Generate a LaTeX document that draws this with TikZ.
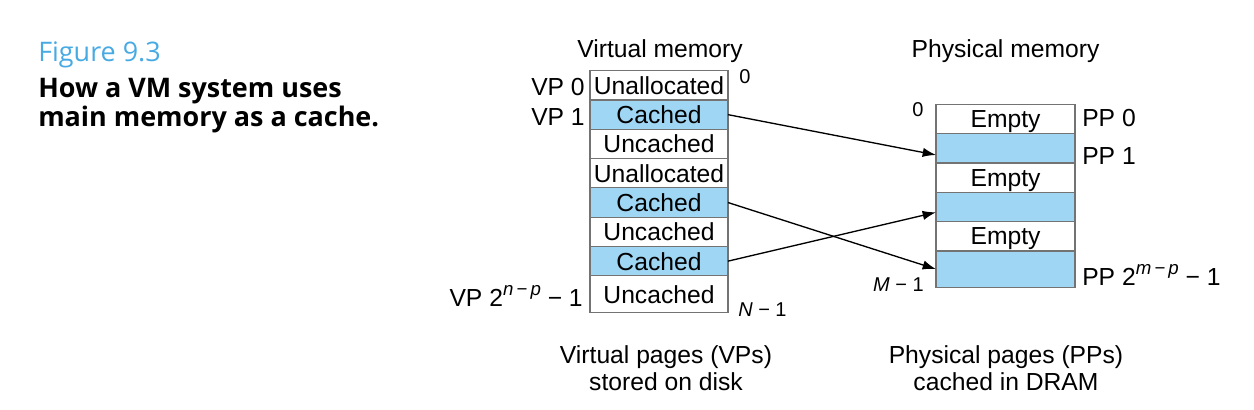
\documentclass[tikz,border=0pt]{standalone}
\usepackage{fontspec}
\setmainfont{Liberation Sans}
\newfontfamily\capfont{Open Sans}
\usetikzlibrary{arrows.meta, positioning}

\definecolor{cachedblue}{RGB}{158,214,243}
\definecolor{figblue}{RGB}{72,170,226}
\definecolor{cellline}{RGB}{115,115,115}

\newcommand{\pagesup}[1]{\raisebox{0.42em}{\fontsize{14}{16}\selectfont\itshape #1}}

\begin{document}
\begin{tikzpicture}[
    x=0.75pt, y=-0.75pt,
    cell/.style = {
        rectangle,
        draw=cellline,
        line width=0.8pt,
        inner sep=0pt,
        outer sep=0pt,
        text depth=0pt,
        font=\fontsize{18.5}{22}\selectfont
    },
    vcell/.style = {cell, minimum width=103.5pt, minimum height=22pt},
    pcell/.style = {cell, minimum width=104.25pt, minimum height=22pt},
    cached/.style = {fill=cachedblue},
    lbl/.style = {font=\fontsize{18.5}{22}\selectfont, inner sep=0pt},
    small/.style = {font=\fontsize{15}{17}\selectfont, inner sep=0pt},
    capline/.style = {font=\capfont\fontsize{20.2}{24}\selectfont, inner sep=0pt, anchor=base west},
    capbold/.style = {capline, font=\capfont\bfseries\fontsize{20.2}{24}\selectfont},
    arrow/.style = {line width=1pt, -{Latex[length=10pt, width=7pt]}}
]
    \useasboundingbox (0,0) rectangle (1254,410);

    % === CAPTION ===
    \node[capline, text=figblue] (fignum) at (38,61.7) {Figure 9.3};
    \node[capbold] (capa) at (38,98) {How a VM system uses};
    \node[capbold] (capb) at (38,127) {main memory as a cache.};

    % === VIRTUAL MEMORY ===
    \node[lbl, anchor=base] (vmtitle) at (660,58) {Virtual memory};
    \node[vcell] (vp0) at (659,85.35) {Unallocated};
    \node[vcell, cached] (vp1) at (659,114.65) {Cached};
    \node[vcell] (vp2) at (659,143.95) {Uncached};
    \node[vcell] (vp3) at (659,173.25) {Unallocated};
    \node[vcell, cached] (vp4) at (659,202.55) {Cached};
    \node[vcell] (vp5) at (659,231.85) {Uncached};
    \node[vcell, cached] (vp6) at (659,261.15) {Cached};
    \node[vcell, minimum height=27.75pt] (vp7) at (659,294.2) {Uncached};

    \node[lbl, anchor=base east] (vp0lbl) at (585,96) {VP 0};
    \node[lbl, anchor=base east] (vp1lbl) at (585,126) {VP 1};
    \node[lbl, anchor=base east] (vplastlbl) at (583,306) {VP 2\pagesup{n\,−\,p} − 1};
    \node[small] (vtop) at (745,77) {0};
    \node[small, anchor=base west] (vbot) at (738,316) {{\itshape N} − 1};

    % === PHYSICAL MEMORY ===
    \node[lbl, anchor=base] (pmtitle) at (1005.5,58) {Physical memory};
    \node[pcell] (pp0) at (1005.5,118.97) {Empty};
    \node[pcell, cached] (pp1) at (1005.5,148.3) {};
    \node[pcell] (pp2) at (1005.5,177.6) {Empty};
    \node[pcell, cached] (pp3) at (1005.5,206.97) {};
    \node[pcell] (pp4) at (1005.5,236.3) {Empty};
    \node[pcell, cached, minimum height=27.2pt] (pp5) at (1005.5,269.15) {};

    \node[lbl, anchor=base west] (pp0lbl) at (1082,126.7) {PP 0};
    \node[lbl, anchor=base west] (pp1lbl) at (1082,164) {PP 1};
    \node[lbl, anchor=base west] (pplastlbl) at (1082,285) {PP 2\pagesup{m\,−\,p} − 1};
    \node[small] (ptop) at (918,110) {0};
    \node[small, anchor=base east] (pbot) at (924,291) {{\itshape M} − 1};

    % === BOTTOM LABELS ===
    \node[lbl, anchor=base] (vpnote1) at (666,363) {Virtual pages (VPs)};
    \node[lbl, anchor=base] (vpnote2) at (666,390) {stored on disk};
    \node[lbl, anchor=base] (ppnote1) at (1006,363) {Physical pages (PPs)};
    \node[lbl, anchor=base] (ppnote2) at (1006,390) {cached in DRAM};

    % === MAPPINGS ===
    \draw[arrow] (vp1.east) -- ([yshift=-5pt]pp1.west);
    \draw[arrow] (vp4.east) -- (pp5.west);
    \draw[arrow] (vp6.east) -- ([yshift=-4pt]pp3.west);

\end{tikzpicture}
\end{document}
